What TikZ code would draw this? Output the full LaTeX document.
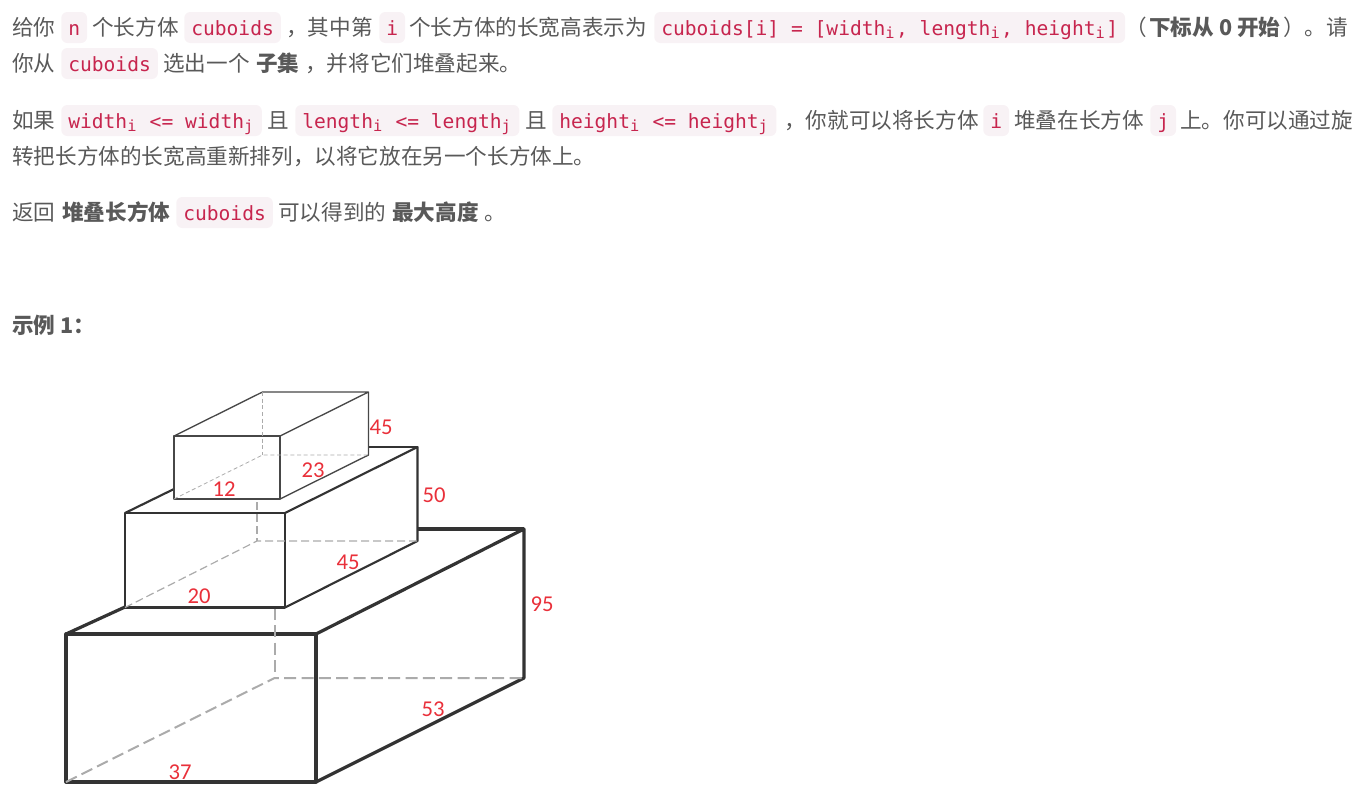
\documentclass[tikz,border=0pt]{standalone}
\usepackage{fontspec}
\setmainfont{Noto Sans CJK SC}
\setmonofont{DejaVu Sans Mono}
\newfontfamily\dimfont{Carlito}

\definecolor{bodygrey}{HTML}{595959}
\definecolor{chipfill}{HTML}{F8F2F5}
\definecolor{chiptext}{HTML}{C7254E}
\definecolor{edgedark}{HTML}{333333}
\definecolor{edgehidden}{HTML}{ABABAB}
\definecolor{dimred}{HTML}{E9303A}

\newcommand{\idx}[1]{\makebox[8pt][l]{\raisebox{-0.35ex}{\fontsize{11.5}{11.5}\selectfont #1}}}

\tikzset{
	body/.style = {anchor = base west, inner sep = 0, text = bodygrey, font = \fontsize{16.2}{16.2}\selectfont},
	bodybold/.style = {body, font = \fontsize{16.2}{16.2}\selectfont\bfseries},
	chip/.style = {anchor = base west, inner xsep = 5.25pt, inner ysep = 0, rounded corners = 4.5pt, fill = chipfill,
		text = chiptext, text height = 17.25pt, text depth = 6pt, font = \ttfamily\fontsize{14.7}{14.7}\selectfont},
	dimlabel/.style = {inner sep = 0, text = dimred, font = \dimfont\fontsize{17}{17}\selectfont},
	hidden/.style = {dashed, edgehidden}
}

\begin{document}
\begin{tikzpicture}[x = 0.75pt, y = -0.75pt]

	\useasboundingbox (0, 0) rectangle (1367, 801);

	% Statement, first paragraph

	\node [body] (give) at (12, 35) {给你};
	\node [chip] (chipn) at (61, 35) {n};
	\node [body] (count) at (92, 35) {个长方体};
	\node [chip] (chipcuboids) at (184, 35) {cuboids};
	\node [body] (among) at (286, 35) {，其中第};
	\node [chip] (chipi) at (379, 35) {i};
	\node [body] (shown) at (409, 35) {个长方体的长宽高表示为};
	\node [chip] (chipdef) at (654, 35) {cuboids[i] = [width\idx{i}, length\idx{i}, height\idx{i}]};
	\node [body] (open) at (1125, 35) {（};
	\node [bodybold] (zerobased) at (1149, 35) {下标从 0 开始};
	\node [body] (close) at (1283, 35) {）。请};

	\node [body] (youfrom) at (12, 71) {你从};
	\node [chip] (chipfrom) at (61, 71) {cuboids};
	\node [body] (pick) at (163, 71) {选出一个};
	\node [bodybold] (subset) at (256, 71) {子集};
	\node [body] (stack) at (305, 71) {，并将它们堆叠起来。};

	% Statement, second paragraph

	\node [body] (ifword) at (12, 128) {如果};
	\node [chip] (chipwidth) at (61, 128) {width\idx{i} <= width\idx{j}};
	\node [body] (and1) at (267, 128) {且};
	\node [chip] (chiplength) at (295, 128) {length\idx{i} <= length\idx{j}};
	\node [body] (and2) at (525, 128) {且};
	\node [chip] (chipheight) at (552, 128) {height\idx{i} <= height\idx{j}};
	\node [body] (then) at (784, 128) {，你就可以将长方体};
	\node [chip] (chipstacki) at (983, 128) {i};
	\node [body] (onto) at (1014, 128) {堆叠在长方体};
	\node [chip] (chipstackj) at (1150, 128) {j};
	\node [body] (rotate) at (1180, 128) {上。你可以通过旋};

	\node [body] (rearrange) at (12, 164) {转把长方体的长宽高重新排列，以将它放在另一个长方体上。};

	% Statement, third paragraph

	\node [body] (back) at (12, 220) {返回};
	\node [bodybold] (stacked) at (62, 220) {堆叠长方体};
	\node [chip] (chipback) at (176, 220) {cuboids};
	\node [body] (obtain) at (278, 220) {可以得到的};
	\node [bodybold] (maxheight) at (392, 220) {最大高度};
	\node [body] (stop) at (484, 220) {。};

	\node [bodybold] (example) at (12, 333) {示例 1：};

	% Bottom cuboid

	\begin{scope}[line width = 2.4pt, edgedark, line join = round]

		\draw (66, 634) rectangle (316, 782);
		\draw (316, 634) -- (524, 529) -- (524, 678) -- (316, 782);
		\draw (66, 634) -- (125, 607);
		\draw (417.5, 529) -- (524, 529);

	\end{scope}

	\begin{scope}[hidden, line width = 1.5pt, dash pattern = on 9pt off 4pt]

		\draw (66, 782) -- (274.5, 678) -- (524, 678);
		\draw (274.5, 608) -- (274.5, 678);

	\end{scope}

	% Middle cuboid

	\begin{scope}[line width = 1.6pt, edgedark, line join = round]

		\draw (125, 513) rectangle (285, 607.5);
		\draw (285, 513) -- (417.5, 447) -- (417.5, 541) -- (285, 607.5);
		\draw (125, 513) -- (174, 489);
		\draw (368.5, 447) -- (417.5, 447);

	\end{scope}

	\begin{scope}[hidden, line width = 0.9pt, dash pattern = on 6pt off 3pt]

		\draw (125, 607.5) -- (257, 541) -- (417.5, 541);
		\draw (257, 502) -- (257, 541);

	\end{scope}

	% Top cuboid

	\begin{scope}[line width = 1pt, edgedark!90, line join = round]

		\draw (174, 436) rectangle (280, 499);
		\draw (174, 436) -- (262.5, 392) -- (368.5, 392) -- (280, 436);
		\draw (368.5, 392) -- (368.5, 455) -- (280, 499);

	\end{scope}

	\begin{scope}[hidden, line width = 0.6pt, dash pattern = on 3pt off 2pt]

		\draw (174, 499) -- (262.5, 455) -- (368.5, 455);
		\draw (262.5, 392) -- (262.5, 455);

	\end{scope}

	% Edge lengths

	\node [dimlabel] (top45) at (381, 427) {45};
	\node [dimlabel] (top23) at (313, 470) {23};
	\node [dimlabel] (top12) at (224, 489) {12};
	\node [dimlabel] (mid50) at (434, 495) {50};
	\node [dimlabel] (mid45) at (348, 562) {45};
	\node [dimlabel] (mid20) at (199, 596) {20};
	\node [dimlabel] (low95) at (542, 604) {95};
	\node [dimlabel] (low53) at (433, 709) {53};
	\node [dimlabel] (low37) at (180, 772) {37};

\end{tikzpicture}
\end{document}
